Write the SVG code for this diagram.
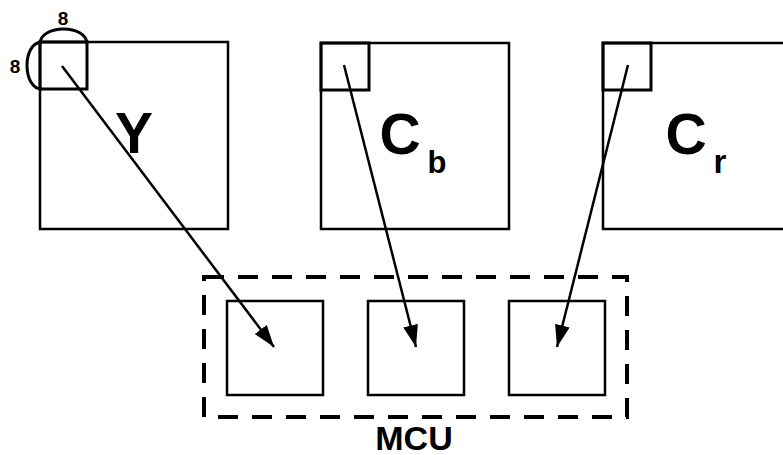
<svg xmlns="http://www.w3.org/2000/svg" width="783" height="455" viewBox="0 0 783 455">
<defs>
<style>
.big{fill:none;stroke:#000;stroke-width:2.5}
.blk{fill:none;stroke:#000;stroke-width:3}
.bx{fill:none;stroke:#000;stroke-width:2.5}
.dash{fill:none;stroke:#000;stroke-width:4;stroke-dasharray:20 14}
.arr{fill:none;stroke:#000;stroke-width:2.5}
.t{font-family:"Liberation Sans",Arial,sans-serif;font-weight:bold;fill:#000;text-anchor:middle}
</style>
<marker id="ah" markerUnits="userSpaceOnUse" markerWidth="24" markerHeight="16" refX="22" refY="7.5" orient="auto">
<path d="M0,0 L22,7.5 L0,15 z" fill="#000"/>
</marker>
</defs>
<g id="Y">
<rect class="big" x="40" y="42" width="188" height="187"/>
<rect class="blk" x="40" y="42" width="47" height="47"/>
<path class="blk" d="M40,44 C40,24 87,24 87,44"/>
<path class="blk" d="M42,42 C22,42 22,89 42,89"/>
<text class="t" x="63" y="25" font-size="19">8</text>
<text class="t" x="15" y="73" font-size="19">8</text>
<text class="t" x="134" y="153" font-size="57">Y</text>
</g>
<g id="Cb">
<rect class="big" x="321" y="43" width="188" height="186"/>
<rect class="blk" x="321" y="43" width="48" height="47"/>
<text class="t" x="400" y="154" font-size="57">C</text>
<text class="t" x="437" y="173" font-size="31">b</text>
</g>
<g id="Cr">
<rect class="big" x="603" y="43" width="200" height="186"/>
<rect class="blk" x="603" y="43" width="48" height="47"/>
<text class="t" x="686" y="154" font-size="57">C</text>
<text class="t" x="720" y="173" font-size="33">r</text>
</g>
<g id="MCU">
<rect class="dash" x="204" y="277" width="423" height="140"/>
<rect class="bx" x="227" y="301" width="96" height="94"/>
<rect class="bx" x="368" y="301" width="96" height="94"/>
<rect class="bx" x="509" y="301" width="96" height="94"/>
<text class="t" x="414" y="450" font-size="34">MCU</text>
</g>
<g id="connectors">
<line class="arr" x1="62" y1="66" x2="274" y2="347" marker-end="url(#ah)"/>
<line class="arr" x1="344" y1="65" x2="416" y2="347" marker-end="url(#ah)"/>
<line class="arr" x1="628" y1="65" x2="557" y2="347" marker-end="url(#ah)"/>
</g>
</svg>
